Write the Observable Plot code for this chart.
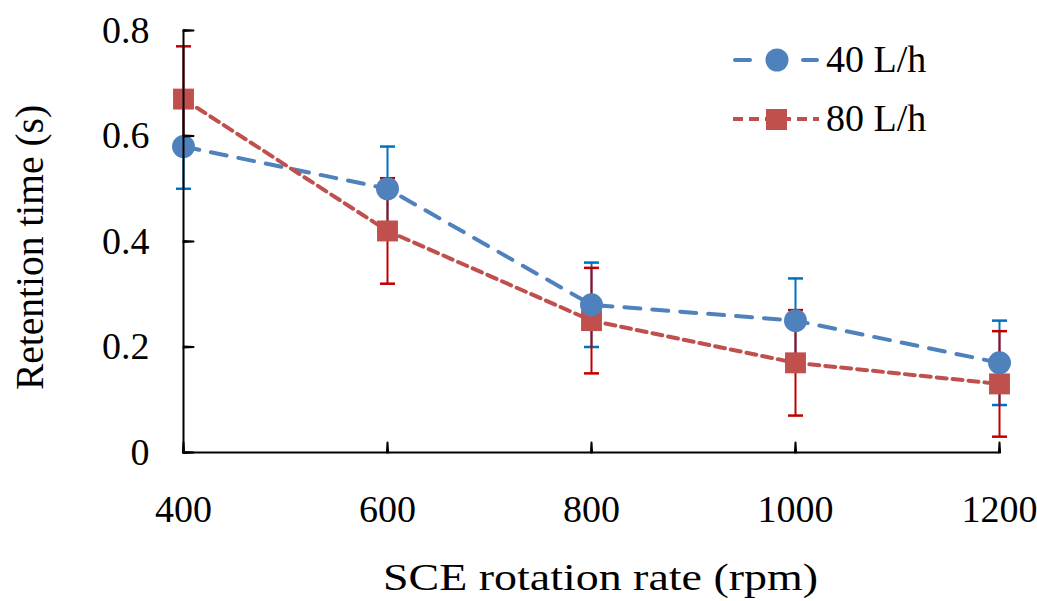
<!DOCTYPE html>
<html><head><meta charset="utf-8">
<script src="https://cdn.jsdelivr.net/npm/d3@7"></script>
<script src="https://cdn.jsdelivr.net/npm/@observablehq/plot@0.6"></script>
<style>
body{margin:0;background:#fff;}
#wrap{position:relative;width:1037px;height:601px;overflow:hidden;}
#legend{position:absolute;left:0;top:0;pointer-events:none;}
</style></head><body><div id="wrap"></div>
<script>
const rates = [400, 600, 800, 1000, 1200];
const time40 = [0.58, 0.50, 0.28, 0.25, 0.17];
const err40 = [0.08, 0.08, 0.08, 0.08, 0.08];
const time80 = [0.67, 0.42, 0.25, 0.17, 0.13];
const err80 = [0.10, 0.10, 0.10, 0.10, 0.10];
const seriesNames = ["40 L/h", "80 L/h"];
const xTicks = [400, 600, 800, 1000, 1200];
const yTicks = [0, 0.2, 0.4, 0.6, 0.8];

const blueLine = "#4F81BD", blueErr = "#0070C0";
const redLine = "#C0504D", redErr = "#C00000";
const font = "'Liberation Serif', 'Times New Roman', serif";

const s40 = rates.map((x, i) => ({x, y: time40[i], lo: time40[i] - err40[i], hi: time40[i] + err40[i]}));
const s80 = rates.map((x, i) => ({x, y: time80[i], lo: time80[i] - err80[i], hi: time80[i] + err80[i]}));

const cap = {draw(ctx) { ctx.moveTo(-7.5, 0); ctx.lineTo(7.5, 0); }};

function errMarks(data, color) {
  return [
    Plot.ruleX(data, {x: "x", y1: "lo", y2: "hi", stroke: color, strokeWidth: 2}),
    Plot.dot(data, {x: "x", y: "lo", symbol: cap, fill: "none", stroke: color, strokeWidth: 2.5, r: 5}),
    Plot.dot(data, {x: "x", y: "hi", symbol: cap, fill: "none", stroke: color, strokeWidth: 2.5, r: 5})
  ];
}

const chart = Plot.plot({
  width: 1037, height: 601,
  marginLeft: 183, marginRight: 38, marginTop: 30, marginBottom: 149,
  style: {fontFamily: font, fontSize: "38px", color: "#000", background: "#fff"},
  x: {domain: [400, 1200]},
  y: {domain: [0, 0.8]},
  marks: [
    ...errMarks(s40, blueErr),
    ...errMarks(s80, redErr),
    Plot.line(s40, {x: "x", y: "y", stroke: blueLine, strokeWidth: 4, strokeDasharray: "16,12", strokeLinecap: "round"}),
    Plot.line(s80, {x: "x", y: "y", stroke: redLine, strokeWidth: 4, strokeDasharray: "10,6"}),
    Plot.dot(s80, {x: "x", y: "y", symbol: "square", r: 11.8, fill: redLine}),
    Plot.dot(s40, {x: "x", y: "y", symbol: "circle", r: 11.5, fill: blueLine}),
    Plot.ruleX([400], {stroke: "#000", strokeWidth: 2}),
    Plot.ruleY([0], {stroke: "#000", strokeWidth: 2}),
    // inward tick marks
    Plot.spike(xTicks, {x: d => d, y: 0, length: 10, r: 0.6, rotate: 0, fill: "#000", stroke: "#000", strokeWidth: 2}),
    Plot.spike(yTicks, {x: 400, y: d => d, length: 10, r: 0.6, rotate: 90, fill: "#000", stroke: "#000", strokeWidth: 2}),
    Plot.axisX({ticks: xTicks, tickSize: 0, tickPadding: 43, fontSize: 38, tickFormat: d => String(d),
      label: "SCE rotation rate (rpm)", labelAnchor: "center", labelOffset: 137, labelArrow: "none"}),
    Plot.axisY({ticks: yTicks, tickSize: 0, tickPadding: 34, fontSize: 38, tickFormat: d => d === 0 ? "0" : d.toFixed(1),
      label: "Retention time (s)", labelAnchor: "center", labelOffset: 169, labelArrow: "none"})
  ]
});
document.getElementById("wrap").appendChild(chart);

// axis titles sized to match the reference
d3.select(chart).selectAll('g[aria-label="y-axis label"] text').attr("font-size", 39.5).attr("dx", -6);
d3.select(chart).selectAll('g[aria-label="x-axis label"] text')
  .attr("textLength", 435).attr("lengthAdjust", "spacingAndGlyphs").attr("dx", 9);

// Legend overlay
const leg = d3.select("#wrap").append("svg").attr("id", "legend")
  .attr("width", 1037).attr("height", 601);
const g1 = leg.append("g");
g1.append("line").attr("x1", 735).attr("x2", 750).attr("y1", 60).attr("y2", 60)
  .attr("stroke", blueLine).attr("stroke-width", 4).attr("stroke-linecap", "round");
g1.append("line").attr("x1", 803).attr("x2", 817).attr("y1", 60).attr("y2", 60)
  .attr("stroke", blueLine).attr("stroke-width", 4).attr("stroke-linecap", "round");
g1.append("circle").attr("cx", 777).attr("cy", 60).attr("r", 11.5).attr("fill", blueLine);
g1.append("text").attr("x", 826).attr("y", 72).attr("font-family", font).attr("font-size", 38)
  .attr("fill", "#000").text(seriesNames[0]);
const g2 = leg.append("g");
g2.append("line").attr("x1", 733).attr("x2", 819).attr("y1", 119).attr("y2", 119)
  .attr("stroke", redLine).attr("stroke-width", 4).attr("stroke-dasharray", "10,6");
g2.append("rect").attr("x", 766).attr("y", 109).attr("width", 21).attr("height", 21).attr("fill", redLine);
g2.append("text").attr("x", 826).attr("y", 131).attr("font-family", font).attr("font-size", 38)
  .attr("fill", "#000").text(seriesNames[1]);
</script>
</body></html>
